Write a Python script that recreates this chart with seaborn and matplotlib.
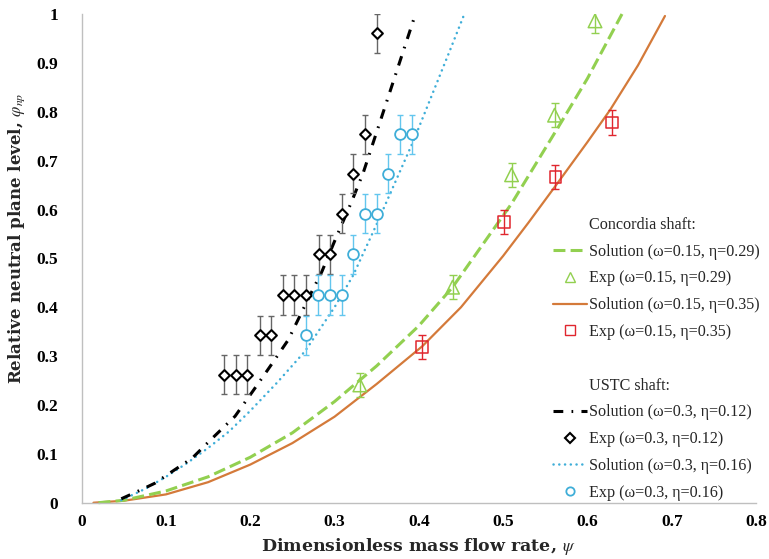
import matplotlib
matplotlib.use("Agg")
import matplotlib.pyplot as plt
import seaborn as sns
import pandas as pd
from matplotlib.lines import Line2D

# ---------------- data ----------------
# Solution curves
sol_c29_x = [0.020, 0.05, 0.10, 0.15, 0.20, 0.25, 0.30, 0.35, 0.40, 0.44, 0.51, 0.568, 0.60, 0.641]
sol_c29_y = [0.0, 0.005, 0.024, 0.053, 0.093, 0.143, 0.207, 0.280, 0.362, 0.441, 0.612, 0.776, 0.868, 1.0]

sol_c35_x = [0.014, 0.05, 0.10, 0.15, 0.20, 0.25, 0.30, 0.35, 0.404, 0.45, 0.50, 0.53, 0.562, 0.60, 0.627, 0.66, 0.692]
sol_c35_y = [0.0, 0.004, 0.017, 0.042, 0.078, 0.122, 0.176, 0.243, 0.320, 0.400, 0.505, 0.573, 0.648, 0.738, 0.804, 0.895, 0.996]

sol_u12_x = [0.047, 0.07, 0.087, 0.11, 0.131, 0.155, 0.182, 0.205, 0.224, 0.245, 0.269, 0.285, 0.30, 0.32, 0.334, 0.356, 0.38, 0.396]
sol_u12_y = [0.008, 0.026, 0.040, 0.067, 0.091, 0.132, 0.177, 0.233, 0.280, 0.333, 0.418, 0.473, 0.535, 0.615, 0.675, 0.790, 0.916, 1.0]

sol_u16_x = [0.047, 0.075, 0.10, 0.125, 0.15, 0.175, 0.20, 0.232, 0.265, 0.30, 0.322, 0.35, 0.394, 0.437, 0.454]
sol_u16_y = [0.005, 0.028, 0.053, 0.081, 0.112, 0.146, 0.188, 0.246, 0.310, 0.400, 0.465, 0.570, 0.742, 0.926, 1.0]

# Experimental points
exp_c29_x = [0.330, 0.440, 0.510, 0.561, 0.609]
exp_c29_y = [0.241, 0.441, 0.671, 0.793, 0.986]
exp_c29_err = 0.025

exp_c35_x = [0.404, 0.501, 0.562, 0.629]
exp_c35_y = [0.319, 0.575, 0.667, 0.778]
exp_c35_err = 0.025

exp_u12_x = [0.169, 0.183, 0.196, 0.211, 0.225, 0.239, 0.252, 0.266, 0.281, 0.295, 0.309, 0.322, 0.336, 0.350]
exp_u12_y = [0.262, 0.262, 0.262, 0.343, 0.343, 0.425, 0.425, 0.425, 0.508, 0.508, 0.591, 0.673, 0.754, 0.961]
exp_u12_err = 0.04

exp_u16_x = [0.266, 0.280, 0.295, 0.309, 0.322, 0.336, 0.350, 0.364, 0.378, 0.392]
exp_u16_y = [0.343, 0.425, 0.425, 0.425, 0.508, 0.591, 0.591, 0.673, 0.754, 0.754]
exp_u16_err = 0.04

x_ticks = [0, 0.1, 0.2, 0.3, 0.4, 0.5, 0.6, 0.7, 0.8]
x_tick_labels = ['0', '0.1', '0.2', '0.3', '0.4', '0.5', '0.6', '0.7', '0.8']
y_ticks = [0, 0.1, 0.2, 0.3, 0.4, 0.5, 0.6, 0.7, 0.8, 0.9, 1.0]
y_tick_labels = ['0', '0.1', '0.2', '0.3', '0.4', '0.5', '0.6', '0.7', '0.8', '0.9', '1']

legend_labels = [
    'Concordia shaft:',
    'Solution (\u03c9=0.15, \u03b7=0.29)',
    'Exp (\u03c9=0.15, \u03b7=0.29)',
    'Solution (\u03c9=0.15, \u03b7=0.35)',
    'Exp (\u03c9=0.15, \u03b7=0.35)',
    ' ',
    'USTC shaft:',
    'Solution (\u03c9=0.3, \u03b7=0.12)',
    'Exp (\u03c9=0.3, \u03b7=0.12)',
    'Solution (\u03c9=0.3, \u03b7=0.16)',
    'Exp (\u03c9=0.3, \u03b7=0.16)',
]

# ---------------- styles ----------------
C_GREEN = '#92D050'
C_ORANGE = '#D47A3A'
C_RED = '#E0262E'
C_BLACK = '#000000'
C_BLUE = '#3FAED8'
C_BLUE_ERR = '#63C6EE'
C_GRAY_ERR = '#666666'
C_AXIS = '#BFBFBF'

sns.set_theme(style="white")
plt.rcParams['font.family'] = ['Liberation Serif', 'DejaVu Serif']
plt.rcParams['mathtext.fontset'] = 'stix'

fig = plt.figure(figsize=(7.69, 5.59), dpi=100)
ax = fig.add_axes([0.1062, 0.1007, 0.8769, 0.8742])

def draw_curve(xs, ys, color, lw, dashes=None, cap='butt'):
    df = pd.DataFrame({'x': xs, 'y': ys})
    sns.lineplot(data=df, x='x', y='y', ax=ax, color=color, linewidth=lw,
                 sort=False, estimator=None, legend=False)
    ln = ax.lines[-1]
    if dashes is not None:
        ln.set_dashes(dashes)
        ln.set_dash_capstyle(cap)
    ln.set_clip_on(False)
    return ln

BLUE_DASH = (0.05, 2.25)
GREEN_DASH = (3.9, 1.7)
BLACK_DASH = (3.2, 2.7, 0.55, 2.7)

draw_curve(sol_c35_x, sol_c35_y, C_ORANGE, 1.6)
draw_curve(sol_c29_x, sol_c29_y, C_GREEN, 2.2, dashes=GREEN_DASH)
draw_curve(sol_u16_x, sol_u16_y, C_BLUE, 1.8, dashes=BLUE_DASH, cap='round')
draw_curve(sol_u12_x, sol_u12_y, C_BLACK, 2.2, dashes=BLACK_DASH)

# error bars
ax.errorbar(exp_u12_x, exp_u12_y, yerr=exp_u12_err, fmt='none', ecolor=C_GRAY_ERR,
            elinewidth=1.0, capsize=2.5, capthick=1.0, zorder=3)
ax.errorbar(exp_u16_x, exp_u16_y, yerr=exp_u16_err, fmt='none', ecolor=C_BLUE_ERR,
            elinewidth=1.0, capsize=2.5, capthick=1.0, zorder=3)
ax.errorbar(exp_c29_x, exp_c29_y, yerr=exp_c29_err, fmt='none', ecolor=C_GREEN,
            elinewidth=1.0, capsize=3, capthick=1.0, zorder=3)
ax.errorbar(exp_c35_x, exp_c35_y, yerr=exp_c35_err, fmt='none', ecolor=C_RED,
            elinewidth=1.0, capsize=3, capthick=1.0, zorder=3)

# markers
sns.scatterplot(x=exp_u12_x, y=exp_u12_y, ax=ax, marker='D', s=30,
                facecolor='white', edgecolor=C_BLACK, linewidth=1.5, zorder=4, legend=False)
sns.scatterplot(x=exp_u16_x, y=exp_u16_y, ax=ax, marker='o', s=60,
                facecolor='white', edgecolor=C_BLUE, linewidth=1.3, zorder=4, legend=False)
sns.scatterplot(x=exp_c29_x, y=exp_c29_y, ax=ax, marker='^', s=95,
                facecolor='none', edgecolor=C_GREEN, linewidth=1.1, zorder=4, legend=False)
sns.scatterplot(x=exp_c35_x, y=exp_c35_y, ax=ax, marker='s', s=70,
                facecolor='none', edgecolor=C_RED, linewidth=1.1, zorder=4, legend=False)

# axes
ax.set_xlim(0, 0.8)
ax.set_ylim(0, 1.0)
ax.set_xticks(x_ticks)
ax.set_xticklabels(x_tick_labels)
ax.set_yticks(y_ticks)
ax.set_yticklabels(y_tick_labels)
ax.grid(False)
for side in ['top', 'right']:
    ax.spines[side].set_visible(False)
for side in ['left', 'bottom']:
    ax.spines[side].set_color(C_AXIS)
    ax.spines[side].set_linewidth(1.0)
ax.tick_params(axis='both', which='major', direction='out', length=4, width=1.0,
               color=C_AXIS, labelsize=12.5, labelcolor='black')
ax.tick_params(axis='x', pad=4)
ax.tick_params(axis='y', pad=13)
for lab in ax.get_xticklabels() + ax.get_yticklabels():
    lab.set_fontweight('bold')

ax.set_xlabel(r'Dimensionless mass flow rate, $\psi$', fontsize=12.5, fontweight='bold',
              family=['DejaVu Serif'])
ax.set_ylabel(r'Relative neutral plane level, $\varphi_{np}$', fontsize=12, fontweight='bold',
              family=['DejaVu Serif'])
ax.xaxis.set_label_coords(0.5, -0.068)
ax.yaxis.set_label_coords(-0.081, 0.5417)

# legend
empty = Line2D([], [], linestyle='none', marker=None)
handles = [
    empty,
    Line2D([], [], color=C_GREEN, lw=2.2, dashes=GREEN_DASH),
    Line2D([], [], linestyle='none', marker='^', markersize=7, markerfacecolor='none',
           markeredgecolor=C_GREEN, markeredgewidth=1.0),
    Line2D([], [], color=C_ORANGE, lw=1.6),
    Line2D([], [], linestyle='none', marker='s', markersize=7, markerfacecolor='none',
           markeredgecolor=C_RED, markeredgewidth=1.0),
    empty,
    empty,
    Line2D([], [], color=C_BLACK, lw=2.2, dashes=BLACK_DASH),
    Line2D([], [], linestyle='none', marker='D', markersize=5, markerfacecolor='white',
           markeredgecolor=C_BLACK, markeredgewidth=1.5),
    Line2D([], [], color=C_BLUE, lw=1.8, dashes=BLUE_DASH, dash_capstyle='round'),
    Line2D([], [], linestyle='none', marker='o', markersize=6, markerfacecolor='white',
           markeredgecolor=C_BLUE, markeredgewidth=1.3),
]
leg = ax.legend(handles, legend_labels, loc='upper left', bbox_to_anchor=(0.699, 0.585),
                frameon=False, fontsize=11.6, handlelength=2.1, handletextpad=0.15,
                labelspacing=0.67, borderpad=0, borderaxespad=0)

fig.savefig('out.png', dpi=100)
